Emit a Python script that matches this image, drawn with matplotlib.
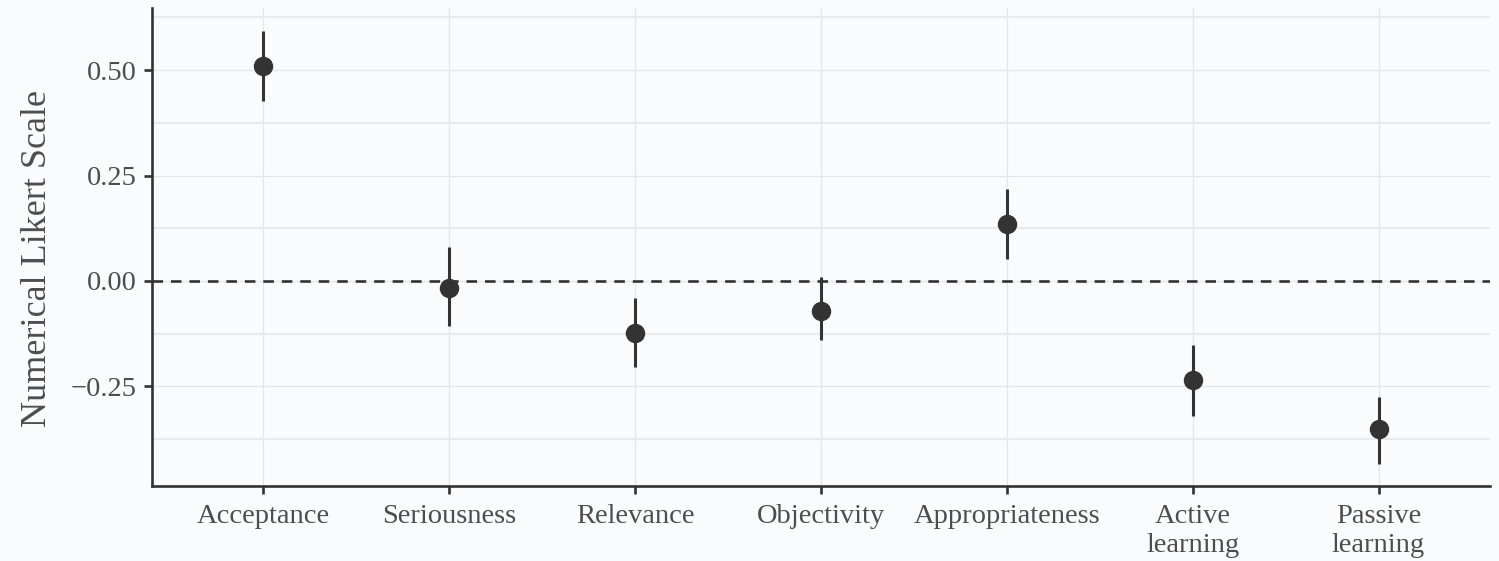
import numpy as np
import matplotlib.pyplot as plt
from matplotlib.ticker import MultipleLocator

categories = ["Acceptance", "Seriousness", "Relevance", "Objectivity",
              "Appropriateness", "Active\nlearning", "Passive\nlearning"]
estimate = [0.509, -0.017, -0.123, -0.071, 0.135, -0.235, -0.351]
lower = [0.427, -0.107, -0.204, -0.140, 0.052, -0.320, -0.434]
upper = [0.592, 0.081, -0.040, 0.009, 0.218, -0.152, -0.275]

plt.rcParams['font.family'] = ['Liberation Serif', 'DejaVu Serif']

bg = '#FAFBFD'
dark = '#333333'
txt = '#4D4D4D'

fig = plt.figure(figsize=(14.99, 5.61), dpi=100, facecolor=bg)
ax = fig.add_axes([0.1014, 0.1337, 0.8926, 0.852])
ax.set_facecolor(bg)

x = np.arange(len(categories))

# grid
ax.yaxis.set_minor_locator(MultipleLocator(0.125))
ax.yaxis.set_major_locator(MultipleLocator(0.25))
ax.grid(True, which='major', color='#E4E5EA', linewidth=0.9)
ax.grid(True, which='minor', axis='y', color='#E9EAEE', linewidth=1.6)
ax.set_axisbelow(True)

ax.axhline(0, color=dark, linestyle=(0, (4, 3)), linewidth=1.9, zorder=2)

ax.vlines(x, lower, upper, color=dark, linewidth=2.2, zorder=3)
ax.plot(x, estimate, 'o', color=dark, markersize=13, zorder=4)

ax.set_xlim(-0.6, 6.6)
ax.set_ylim(-0.486, 0.647)
ax.set_xticks(x)
ax.set_xticklabels(categories, linespacing=1.2)
ax.set_yticks([-0.25, 0.0, 0.25, 0.5])
ax.set_yticklabels(['\u22120.25', '0.00', '0.25', '0.50'])

for s in ['top', 'right']:
    ax.spines[s].set_visible(False)
for s in ['left', 'bottom']:
    ax.spines[s].set_color(dark)
    ax.spines[s].set_linewidth(1.9)

ax.tick_params(which='major', length=6, width=1.9, color=dark,
               labelsize=20.5, labelcolor=txt, pad=5)
ax.tick_params(axis='x', pad=7)
ax.tick_params(which='minor', length=0)

ax.set_ylabel("Numerical Likert Scale", fontsize=26, color=txt)
ax.yaxis.set_label_coords(-0.073, 0.475)

fig.savefig("out.png", dpi=100, facecolor=bg)
